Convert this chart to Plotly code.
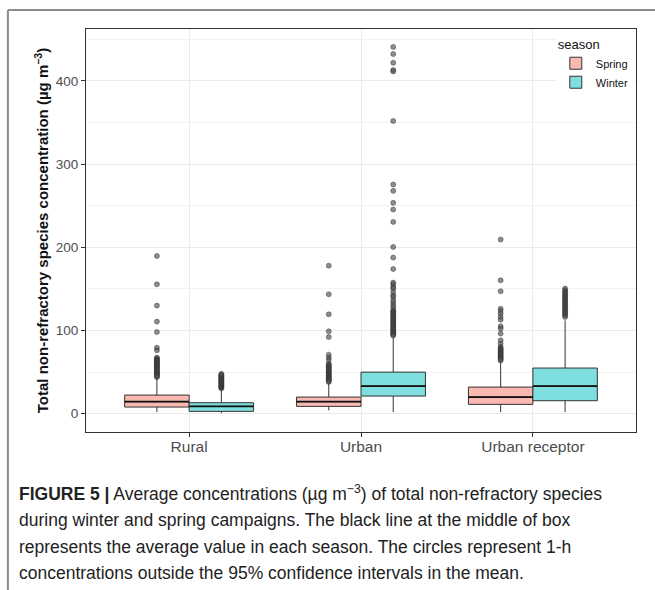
import plotly.graph_objects as go

# ---- data -------------------------------------------------------------
categories = ["Rural", "Urban", "Urban receptor"]
seasons = ["Spring", "Winter"]

# five-number summaries per site (µg m-3)
spring_low = [2.0, 4.0, 2.0]
spring_q1 = [8.0, 8.8, 11.2]
spring_median = [14.4, 14.4, 20.0]
spring_q3 = [22.4, 20.0, 32.0]
spring_high = [43.3, 37.2, 62.0]

winter_low = [0.7, 2.0, 2.0]
winter_q1 = [2.8, 21.2, 15.6]
winter_median = [8.8, 33.2, 33.2]
winter_q3 = [13.2, 50.0, 54.9]
winter_high = [29.0, 91.8, 112.3]

# 1-h concentrations flagged as outliers
rural_spring_out = [189.7, 155.6, 130.0, 110.7, 98.2, 79.4, 76.2, 67.4, 66.6, 65.3,
                    64.1, 63.5, 62.0, 61.2, 60.3, 58.9, 58.1, 57.0, 55.8, 55.1,
                    53.9, 52.7, 51.8, 50.6, 49.9, 48.5, 47.6, 46.8, 45.5, 44.7, 44.0]
rural_winter_out = [30.6, 31.3, 32.2, 32.9, 33.7, 34.4, 35.3, 36.1, 36.8, 37.4,
                    38.3, 39.2, 39.9, 40.7, 41.5, 42.2, 43.1, 43.9, 44.6, 45.4,
                    46.3, 47.0, 47.9]
urban_spring_out = [178.0, 143.6, 119.5, 99.0, 92.2, 71.0, 67.4, 64.5, 60.0, 58.9,
                    57.6, 56.3, 55.2, 53.8, 52.7, 51.4, 50.4, 49.1, 47.9, 47.0,
                    45.6, 44.8, 43.4, 42.5, 41.2, 40.3, 39.1, 38.2]
urban_winter_out = [441.0, 432.4, 421.9, 413.2, 411.5, 352.0, 275.6, 267.9, 253.5, 245.5,
                    230.6, 200.5, 187.7, 174.0, 157.6, 155.6, 152.4, 150.4, 146.4, 142.4,
                    140.4, 136.3, 133.5, 130.3, 127.5, 124.3, 123.1, 121.6, 120.2, 118.5,
                    117.3, 115.8, 114.2, 113.0, 111.4, 110.1, 108.7, 107.3, 106.0, 104.4,
                    103.2, 101.7, 100.5, 99.1, 97.6, 96.4, 95.0, 93.9]
receptor_spring_out = [209.4, 160.4, 147.2, 126.3, 123.5, 120.3, 116.3, 113.1, 105.1, 102.3,
                       96.3, 88.2, 84.2, 80.2, 79.0, 77.6, 76.5, 75.1, 73.8, 72.6,
                       71.3, 70.0, 68.9, 67.5, 66.4, 65.1, 64.0]
receptor_winter_out = [150.4, 148.4, 146.9, 145.2, 143.6, 142.0, 140.7, 139.1, 137.5, 136.0,
                       134.6, 133.0, 131.4, 130.1, 128.5, 127.0, 125.5, 124.1, 122.4, 121.0,
                       119.6, 118.0, 116.3]

spring_outliers = [rural_spring_out, urban_spring_out, receptor_spring_out]
winter_outliers = [rural_winter_out, urban_winter_out, receptor_winter_out]

# ---- styling ----------------------------------------------------------
spring_fill = "#F9B8B1"
winter_fill = "#7FDEDF"
box_line = "#333333"
box_w = 0.375
positions = [1, 2, 3]

fig = go.Figure()

groups = [
    ("Spring", -box_w / 2, spring_fill, spring_low, spring_q1, spring_median, spring_q3, spring_high, spring_outliers),
    ("Winter", box_w / 2, winter_fill, winter_low, winter_q1, winter_median, winter_q3, winter_high, winter_outliers),
]

for name, shift, fill, lo, q1, med, q3, hi, outs in groups:
    xs = [p + shift for p in positions]
    fig.add_trace(go.Box(
        name=name, x=xs, q1=q1, median=med, q3=q3,
        lowerfence=lo, upperfence=hi, width=box_w,
        fillcolor=fill, line=dict(color=box_line, width=1),
        whiskerwidth=0, boxpoints=False, legendgroup=name,
    ))
    # thicker median bars
    mx, my = [], []
    for x, m in zip(xs, med):
        mx += [x - box_w / 2, x + box_w / 2, None]
        my += [m, m, None]
    fig.add_trace(go.Scatter(
        x=mx, y=my, mode="lines", line=dict(color="#111111", width=1.8),
        showlegend=False, hoverinfo="skip", legendgroup=name,
    ))
    # outlying points
    ox, oy = [], []
    for x, vals in zip(xs, outs):
        ox += [x] * len(vals)
        oy += vals
    fig.add_trace(go.Scatter(
        x=ox, y=oy, mode="markers",
        marker=dict(size=5, color="rgba(80,80,80,0.65)",
                    line=dict(color="rgba(40,40,40,0.7)", width=0.6)),
        showlegend=False, legendgroup=name,
    ))

font_family = "Liberation Sans, Arial, sans-serif"

fig.update_layout(
    width=655, height=590,
    margin=dict(l=86, r=19, t=29, b=158, autoexpand=False),
    paper_bgcolor="white", plot_bgcolor="white",
    boxmode="overlay",
    font=dict(family=font_family, color="#222222"),
    legend=dict(
        title=dict(text="season", font=dict(size=13, color="#111111")),
        x=0.996, y=0.993, xanchor="right", yanchor="top",
        bgcolor="white", font=dict(size=11, color="#111111"),
        itemwidth=30, tracegroupgap=0,
    ),
    xaxis=dict(
        range=[0.4, 3.6], tickmode="array", tickvals=positions, ticktext=categories,
        showgrid=True, gridcolor="#EBEBEB", gridwidth=1, zeroline=False,
        showline=True, mirror=True, linecolor="#333333", linewidth=1,
        ticks="outside", ticklen=4, tickcolor="#333333", ticklabelstandoff=-4,
        tickfont=dict(size=15.5, color="#4D4D4D"),
    ),
    yaxis=dict(
        range=[-22, 462.5], tickmode="array", tickvals=[0, 100, 200, 300, 400],
        showgrid=True, gridcolor="#EBEBEB", gridwidth=1, zeroline=False,
        minor=dict(tickvals=[50, 150, 250, 350, 450], showgrid=True,
                   gridcolor="#F2F2F2", gridwidth=0.6, ticks=""),
        showline=True, mirror=True, linecolor="#333333", linewidth=1,
        ticks="outside", ticklen=4, tickcolor="#333333",
        tickfont=dict(size=13.5, color="#4D4D4D"),
        title=dict(text="<b>Total non-refractory species concentration (µg m<sup>−3</sup>)</b>",
                   font=dict(size=15, color="#111111"), standoff=3),
    ),
)

# outer frame of the figure panel (top and left edges)
fig.add_shape(type="line", xref="paper", yref="paper",
              x0=-0.142, x1=1.04, y0=1.047, y1=1.047,
              line=dict(color="#8A8A8A", width=2))
fig.add_shape(type="line", xref="paper", yref="paper",
              x0=-0.142, x1=-0.142, y0=1.047, y1=-0.40,
              line=dict(color="#8A8A8A", width=2))

caption_lines = [
    "<b>FIGURE 5 |</b> Average concentrations (µg m<sup>−3</sup>) of total non-refractory species",
    "during winter and spring campaigns. The black line at the middle of box",
    "represents the average value in each season. The circles represent 1-h",
    "concentrations outside the 95% confidence intervals in the mean.",
]
caption_y = [-0.151, -0.218, -0.286, -0.350]
for txt, yy in zip(caption_lines, caption_y):
    fig.add_annotation(
        text=txt, xref="paper", yref="paper", x=-0.1255, y=yy,
        xanchor="left", yanchor="middle", showarrow=False, align="left",
        font=dict(size=17.5, color="#222222", family=font_family),
    )

fig.write_html("out.html")
